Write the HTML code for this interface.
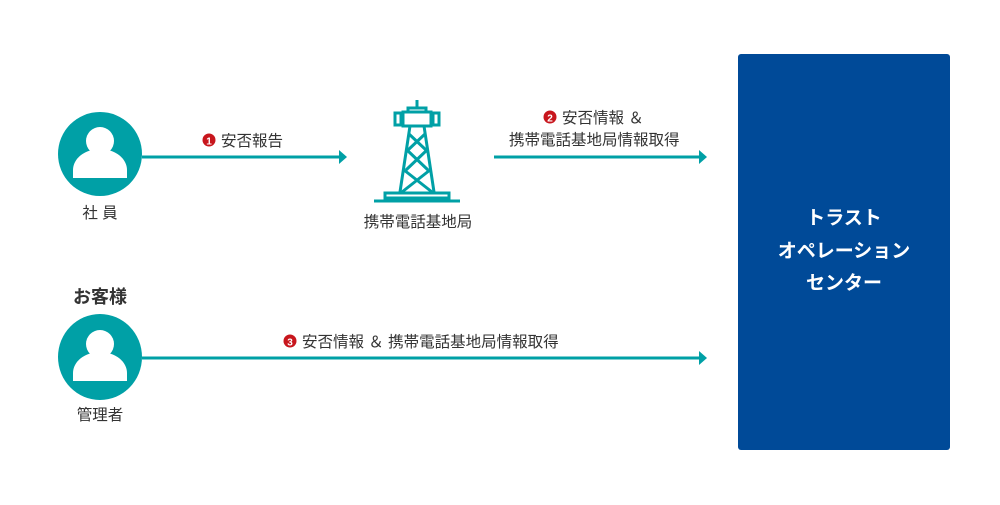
<!DOCTYPE html>
<html><head><meta charset="utf-8"><style>
body{margin:0;background:#fff;}
svg text{font-family:"Liberation Sans","Noto Sans CJK JP",sans-serif;}
</style></head><body>
<svg width="1000" height="500" viewBox="0 0 1000 500" xmlns="http://www.w3.org/2000/svg">
<rect width="1000" height="500" fill="#fff"/>
<g fill="#00a0a6">
<circle cx="100" cy="154" r="42"/>
<ellipse cx="100" cy="357" rx="42" ry="43"/>
</g>
<g fill="#fff">
<circle cx="100" cy="141" r="14"/>
<path d="M73 178 v-8 a27 21 0 0 1 54 0 v8 z"/>
<circle cx="100" cy="344" r="14"/>
<path d="M73 381 v-8 a27 21 0 0 1 54 0 v8 z"/>
</g>
<g font-size="15.5" fill="#333" text-anchor="middle">
<text x="100" y="218">社 員</text>
<text x="100" y="420">管理者</text>
<text x="418" y="227">携帯電話基地局</text>
</g>
<text x="100" y="303" font-size="18" font-weight="bold" fill="#333" text-anchor="middle">お客様</text>
<g stroke="#00a0a6" stroke-width="3" fill="none">
<line x1="142" y1="157" x2="342" y2="157"/>
<line x1="494" y1="157" x2="702" y2="157"/>
<line x1="142" y1="358" x2="702" y2="358"/>
</g>
<g fill="#00a0a6">
<path d="M339 150 L347 157 L339 164 z"/>
<path d="M699 150 L707 157 L699 164 z"/>
<path d="M699 351 L707 358 L699 365 z"/>
</g>
<g font-size="15.5" fill="#333">
<circle cx="209" cy="140" r="6.5" fill="#c8161d"/><text x="209" y="144.5" font-size="10" fill="#fff" text-anchor="middle" font-weight="bold">1</text>
<text x="221" y="146">安否報告</text>
<circle cx="550" cy="117" r="6.5" fill="#c8161d"/><text x="550" y="121.5" font-size="10" fill="#fff" text-anchor="middle" font-weight="bold">2</text>
<text x="562" y="123">安否情報 ＆</text>
<text x="509" y="145">携帯電話基地局情報取得</text>
<circle cx="290" cy="341" r="6.5" fill="#c8161d"/><text x="290" y="345.5" font-size="10" fill="#fff" text-anchor="middle" font-weight="bold">3</text>
<text x="302" y="347">安否情報 ＆ 携帯電話基地局情報取得</text>
</g>
<g stroke="#00a0a6" stroke-width="3" fill="none">
<line x1="417" y1="100" x2="417" y2="108"/>
<rect x="408" y="108" width="18" height="4"/>
<rect x="403" y="112" width="28" height="14"/>
<rect x="395" y="113" width="6" height="12"/>
<rect x="433" y="113" width="6" height="12"/>
<line x1="410" y1="126" x2="400" y2="192"/>
<line x1="424" y1="126" x2="434" y2="192"/>
<line x1="409" y1="134" x2="426" y2="150"/><line x1="425" y1="134" x2="408" y2="150"/>
<line x1="407" y1="150" x2="428" y2="170"/><line x1="427" y1="150" x2="406" y2="170"/>
<line x1="404" y1="170" x2="432" y2="192"/><line x1="430" y1="170" x2="402" y2="192"/>
<rect x="385" y="193" width="64" height="5"/>
<line x1="374" y1="201" x2="460" y2="201"/>
</g>
<rect x="738" y="54" width="212" height="396" rx="3" fill="#004a98"/>
<g font-size="19" font-weight="bold" fill="#fff" text-anchor="middle">
<text x="844" y="224">トラスト</text>
<text x="844" y="257">オペレーション</text>
<text x="844" y="289">センター</text>
</g>
</svg>
</body></html>
